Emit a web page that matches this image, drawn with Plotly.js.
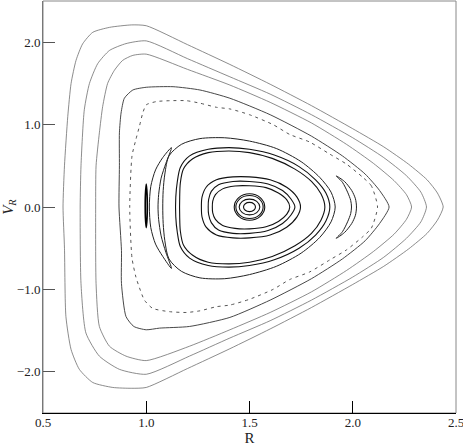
<!DOCTYPE html>
<html>
<head>
<meta charset="utf-8">
<script src="https://cdn.plot.ly/plotly-3.0.1.min.js"></script>
<style>html,body{margin:0;padding:0;background:#fff;}#chart{width:463px;height:447px;}</style>
</head>
<body>
<div id="chart"></div>
<script>
// ---- tick labels ----
const xTickVals = [0.5, 1.0, 1.5, 2.0, 2.5];
const xTickText = ["0.5", "1.0", "1.5", "2.0", "2.5"];
const yTickVals = [-2, -1, 0, 1, 2];
const yTickText = ["\u22122.0", "\u22121.0", "0.0", "1.0", "2.0"];

// ---- outer invariant curves (R, V_R) ----
const aR = [2.438, 2.41, 2.36, 2.27, 2.15, 2.0, 1.8, 1.6, 1.405, 1.2, 1.0, 0.93, 0.822, 0.741, 0.692, 0.66, 0.636, 0.62, 0.604, 0.597, 0.604, 0.611, 0.636, 0.676, 0.741, 0.838, 0.93, 1.0, 1.2, 1.405, 1.6, 1.8, 2.0, 2.15, 2.27, 2.36, 2.41, 2.438];
const aV = [0, 0.17, 0.33, 0.52, 0.73, 0.95, 1.23, 1.49, 1.73, 1.97, 2.2, 2.21, 2.18, 2.12, 1.98, 1.78, 1.5, 1.1, 0.5, 0, -0.5, -1.33, -1.73, -1.97, -2.13, -2.19, -2.2, -2.19, -1.96, -1.72, -1.48, -1.22, -0.94, -0.72, -0.51, -0.32, -0.16, 0];

const bR = [2.357, 2.33, 2.26, 2.15, 2.0, 1.8, 1.6, 1.405, 1.2, 1.0, 0.902, 0.822, 0.765, 0.725, 0.70, 0.684, 0.68, 0.684, 0.708, 0.773, 0.87, 1.0, 1.209, 1.405, 1.6, 1.8, 2.0, 2.15, 2.26, 2.33, 2.357];
const bV = [0, 0.18, 0.38, 0.60, 0.84, 1.12, 1.37, 1.58, 1.80, 2.016, 1.983, 1.90, 1.74, 1.50, 1.18, 0.50, 0, -0.93, -1.53, -1.81, -1.97, -2.03, -1.81, -1.59, -1.38, -1.13, -0.85, -0.61, -0.38, -0.18, 0];

const cR = [2.285, 2.26, 2.2, 2.1, 1.97, 1.8, 1.6, 1.405, 1.2, 1.0, 0.935, 0.886, 0.846, 0.813, 0.789, 0.773, 0.757, 0.755, 0.757, 0.773, 0.822, 0.902, 1.0, 1.209, 1.405, 1.6, 1.8, 1.97, 2.1, 2.2, 2.26, 2.285];
const cV = [0, 0.15, 0.32, 0.53, 0.76, 1.02, 1.27, 1.48, 1.67, 1.855, 1.84, 1.78, 1.66, 1.50, 1.22, 0.90, 0.50, 0, -0.93, -1.45, -1.69, -1.81, -1.864, -1.69, -1.49, -1.28, -1.03, -0.77, -0.54, -0.33, -0.15, 0];

const dR = [2.176, 2.13, 2.06, 1.95, 1.8, 1.6, 1.405, 1.26, 1.13, 1.0, 0.935, 0.894, 0.878, 0.87, 0.87, 0.868, 0.88, 0.88, 0.902, 0.94, 1.0, 1.064, 1.209, 1.405, 1.6, 1.8, 1.95, 2.06, 2.13, 2.176];
const dV = [0, 0.2, 0.40, 0.62, 0.86, 1.12, 1.32, 1.42, 1.46, 1.453, 1.42, 1.32, 1.14, 0.90, 0.50, 0, -0.53, -0.93, -1.33, -1.45, -1.49, -1.47, -1.45, -1.34, -1.13, -0.87, -0.63, -0.41, -0.2, 0];

// ---- broken (island-chain) curve ----
const eR = [2.12, 2.09, 2.05, 1.97, 1.89, 1.79, 1.695, 1.614, 1.5, 1.405, 1.34, 1.26, 1.195, 1.114, 1.05, 1.0, 0.983, 0.967, 0.95, 0.931, 0.92, 0.931, 0.95, 0.967, 0.991, 1.031, 1.112, 1.195, 1.26, 1.34, 1.405, 1.5, 1.614, 1.695, 1.79, 1.89, 1.97, 2.05, 2.09, 2.12];
const eV = [0, 0.257, 0.357, 0.52, 0.64, 0.79, 0.88, 1.0, 1.12, 1.19, 1.21, 1.26, 1.29, 1.29, 1.28, 1.24, 1.14, 0.98, 0.82, 0.62, 0, -0.62, -0.85, -0.98, -1.13, -1.23, -1.27, -1.28, -1.26, -1.21, -1.19, -1.12, -1.0, -0.88, -0.79, -0.64, -0.52, -0.357, -0.257, 0];

// ---- central family ----
const l3R = [1.915, 1.895, 1.84, 1.75, 1.63, 1.5, 1.38, 1.26, 1.17, 1.11, 1.09, 1.082, 1.08, 1.082, 1.09, 1.11, 1.17, 1.26, 1.38, 1.5, 1.63, 1.75, 1.84, 1.895, 1.915];
const l3V = [0, 0.18, 0.36, 0.55, 0.71, 0.80, 0.84, 0.83, 0.76, 0.62, 0.40, 0.2, 0, -0.2, -0.41, -0.63, -0.78, -0.86, -0.87, -0.82, -0.72, -0.56, -0.37, -0.18, 0];

const l1R = [1.889, 1.87, 1.82, 1.74, 1.62, 1.5, 1.4, 1.3, 1.21, 1.165, 1.15, 1.143, 1.143, 1.15, 1.165, 1.21, 1.3, 1.4, 1.5, 1.62, 1.74, 1.82, 1.87, 1.889];
const l1V = [0, 0.17, 0.33, 0.49, 0.63, 0.70, 0.72, 0.70, 0.62, 0.48, 0.3, 0.12, -0.12, -0.3, -0.48, -0.62, -0.71, -0.73, -0.71, -0.64, -0.50, -0.34, -0.17, 0];

const l2R = [1.865, 1.846, 1.80, 1.72, 1.61, 1.5, 1.4, 1.3, 1.225, 1.18, 1.165, 1.162, 1.162, 1.165, 1.18, 1.225, 1.3, 1.4, 1.5, 1.61, 1.72, 1.80, 1.846, 1.865];
const l2V = [0, 0.16, 0.31, 0.46, 0.59, 0.66, 0.68, 0.66, 0.585, 0.46, 0.29, 0.12, -0.12, -0.29, -0.46, -0.585, -0.67, -0.69, -0.67, -0.60, -0.47, -0.32, -0.16, 0];

const m1R = [1.747, 1.73, 1.68, 1.60, 1.5, 1.42, 1.34, 1.29, 1.27, 1.267, 1.27, 1.29, 1.34, 1.42, 1.5, 1.60, 1.68, 1.73, 1.747];
const m1V = [0, 0.12, 0.24, 0.33, 0.365, 0.365, 0.33, 0.24, 0.12, 0, -0.12, -0.245, -0.34, -0.375, -0.375, -0.34, -0.245, -0.12, 0];

const m2R = [1.72, 1.70, 1.66, 1.59, 1.5, 1.42, 1.35, 1.315, 1.302, 1.30, 1.302, 1.315, 1.35, 1.42, 1.5, 1.59, 1.66, 1.70, 1.72];
const m2V = [0, 0.10, 0.20, 0.28, 0.31, 0.31, 0.27, 0.19, 0.09, 0, -0.09, -0.19, -0.28, -0.32, -0.32, -0.285, -0.2, -0.1, 0];

const m3R = [1.695, 1.68, 1.64, 1.58, 1.5, 1.43, 1.37, 1.335, 1.322, 1.32, 1.322, 1.335, 1.37, 1.43, 1.5, 1.58, 1.64, 1.68, 1.695];
const m3V = [0, 0.09, 0.17, 0.235, 0.257, 0.255, 0.22, 0.15, 0.07, 0, -0.07, -0.15, -0.225, -0.26, -0.265, -0.24, -0.175, -0.09, 0];

const r4R = [1.574, 1.552, 1.5, 1.448, 1.426, 1.448, 1.5, 1.552, 1.574];
const r4V = [0, 0.113, 0.16, 0.113, 0, -0.113, -0.16, -0.113, 0];
const r3R = [1.566, 1.547, 1.5, 1.453, 1.434, 1.453, 1.5, 1.547, 1.566];
const r3V = [0, 0.099, 0.14, 0.099, 0, -0.099, -0.14, -0.099, 0];
const r2R = [1.55, 1.535, 1.5, 1.465, 1.45, 1.465, 1.5, 1.535, 1.55];
const r2V = [0, 0.068, 0.096, 0.068, 0, -0.068, -0.096, -0.068, 0];
const r1R = [1.529, 1.5205, 1.5, 1.4795, 1.471, 1.4795, 1.5, 1.5205, 1.529];
const r1V = [0, 0.0396, 0.056, 0.0396, 0, -0.0396, -0.056, -0.0396, 0];

// ---- islands ----
const i1R = [1.122, 1.08, 1.045, 1.022, 1.015, 1.022, 1.045, 1.08, 1.122, 1.095, 1.072, 1.06, 1.057, 1.06, 1.072, 1.095, 1.122];
const i1V = [0.72, 0.6, 0.45, 0.25, 0, -0.25, -0.45, -0.6, -0.745, -0.55, -0.35, -0.15, 0, 0.15, 0.35, 0.53, 0.72];
const i2R = [1.0, 0.996, 0.995, 0.996, 1.0, 1.004, 1.005, 1.004, 1.0];
const i2V = [0.28, 0.15, 0, -0.13, -0.25, -0.13, 0, 0.15, 0.28];
const i3R = [1.92, 1.96, 1.995, 2.013, 2.018, 2.013, 1.995, 1.96, 1.92, 1.95, 1.975, 1.99, 1.994, 1.99, 1.975, 1.95, 1.92];
const i3V = [0.377, 0.31, 0.2, 0.1, 0, -0.1, -0.2, -0.31, -0.38, -0.3, -0.18, -0.08, 0, 0.08, 0.18, 0.3, 0.377];

function curve(x, y, color, width, dash, smooth) {
  return {x: x, y: y, type: 'scatter', mode: 'lines', hoverinfo: 'skip',
    line: {color: color, width: width, dash: dash || 'solid', shape: 'spline', smoothing: smooth || 0.8}};
}

const traces = [
  curve(aR, aV, '#666', 0.75, 'solid', 0.6),
  curve(bR, bV, '#666', 0.75, 'solid', 0.6),
  curve(cR, cV, '#666', 0.75, 'solid', 0.6),
  curve(dR, dV, '#333', 0.9, 'solid', 0.6),
  curve(eR, eV, '#555', 1.0, '3px,4px', 0.6),
  curve(l3R, l3V, '#222', 1.0),
  curve(l1R, l1V, '#111', 1.1),
  curve(l2R, l2V, '#111', 1.1),
  curve(m1R, m1V, '#111', 1.1),
  curve(m2R, m2V, '#111', 1.1),
  curve(m3R, m3V, '#111', 1.1),
  curve(r4R, r4V, '#111', 1.1, 'solid', 1),
  curve(r3R, r3V, '#111', 1.1, 'solid', 1),
  curve(r2R, r2V, '#111', 1.1, 'solid', 1),
  curve(r1R, r1V, '#111', 1.1, 'solid', 1),
  curve(i1R, i1V, '#222', 1.0),
  curve(i2R, i2V, '#000', 1.6),
  curve(i3R, i3V, '#222', 1.0)
];

const serif = "'Liberation Serif', 'Times New Roman', serif";
const layout = {
  width: 463, height: 447,
  margin: {l: 43, r: 7, t: 1, b: 34},
  paper_bgcolor: '#fff', plot_bgcolor: '#fff',
  showlegend: false,
  xaxis: {
    range: [0.5, 2.5], tickvals: xTickVals, ticktext: xTickText,
    ticks: 'inside', ticklen: 12, tickcolor: '#000', tickwidth: 1,
    showline: true, linecolor: '#000', linewidth: 1.2, mirror: false,
    showgrid: false, zeroline: false, ticklabeloverflow: 'allow',
    ticklabelstandoff: -3,
    tickfont: {family: serif, size: 13, color: '#222'},
    title: {text: 'R', font: {family: serif, size: 15, color: '#222'}, standoff: 3}
  },
  yaxis: {
    range: [-2.5, 2.5], tickvals: yTickVals, ticktext: yTickText,
    ticks: 'inside', ticklen: 12, tickcolor: '#555', tickwidth: 1,
    showline: true, linecolor: '#777', linewidth: 1, mirror: false,
    showgrid: false, zeroline: false, ticklabeloverflow: 'allow',
    ticklabelstandoff: -1,
    tickfont: {family: serif, size: 13, color: '#222'},
    title: {text: '<i>V<sub>R</sub></i>', font: {family: serif, size: 15, color: '#222'}, standoff: 0}
  },
  shapes: [
    {type: 'rect', xref: 'paper', yref: 'paper', x0: 0, y0: 0, x1: 1, y1: 1,
     line: {color: '#888', width: 1}, layer: 'below'}
  ]
};

Plotly.newPlot('chart', traces, layout, {staticPlot: true, displayModeBar: false});
</script>
</body>
</html>
